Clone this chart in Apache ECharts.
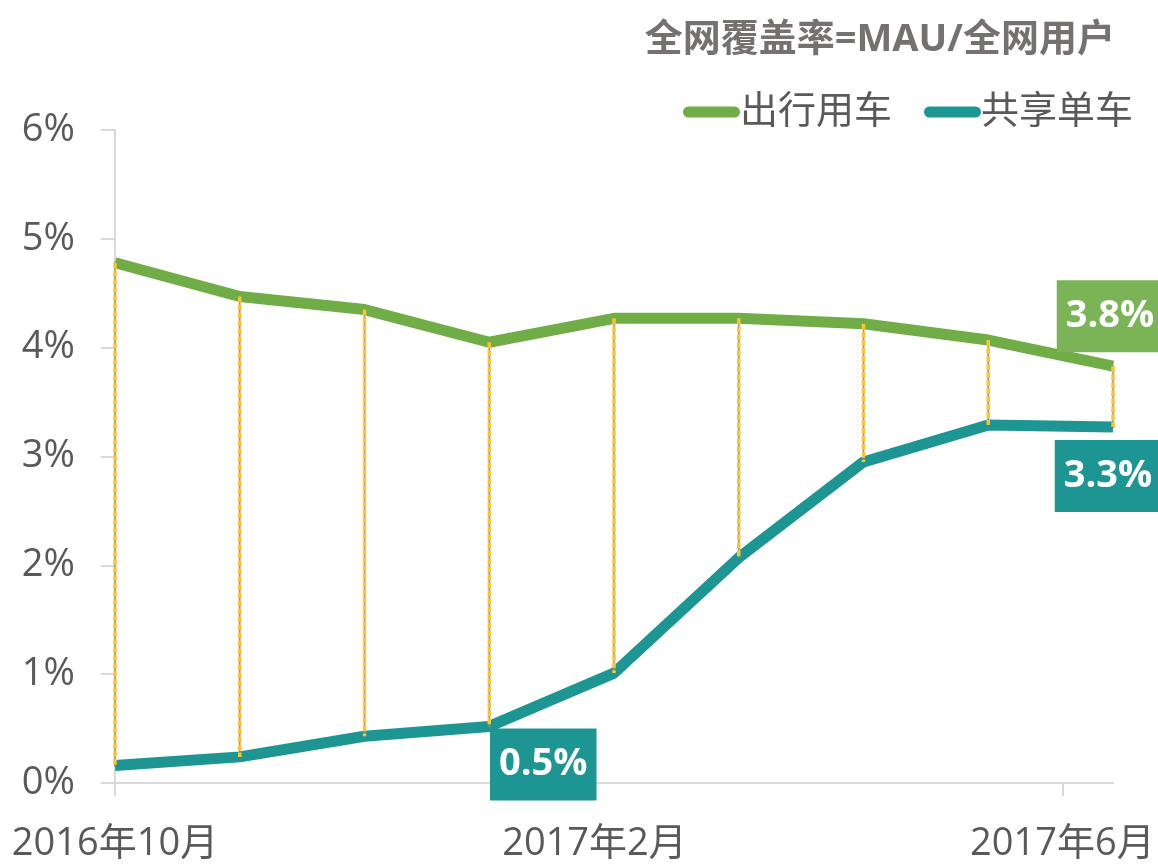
<!DOCTYPE html>
<html>
<head>
<meta charset="utf-8">
<title>全网覆盖率</title>
<script src="https://cdn.jsdelivr.net/npm/echarts@6/dist/echarts.min.js"></script>
<style>
	html, body { margin: 0; padding: 0; background: #fff; }
	#main { width: 1158px; height: 864px; }
</style>
</head>
<body>
<div id="main"></div>
<script>
'use strict';

// data (percent)
var dates = ['2016-10-01', '2016-11-02', '2016-12-04', '2017-01-05', '2017-02-06',
		'2017-03-10', '2017-04-11', '2017-05-13', '2017-06-14'];
var carValues = [4.78, 4.47, 4.35, 4.05, 4.27, 4.27, 4.22, 4.07, 3.83];
var bikeValues = [0.16, 0.24, 0.43, 0.52, 1.01, 2.07, 2.95, 3.29, 3.27];
var tickDates = ['2016-10-01', '2017-02-01', '2017-06-01'];
var tickLabels = ['2016年10月', '2017年2月', '2017年6月'];
var seriesNames = ['出行用车', '共享单车'];

var FONT = "'Open Sans', 'Noto Sans CJK SC', sans-serif",
		GREEN = '#70AD47',
		TEAL = '#1D9592',
		DAY = 86400000;

// days since the first date, so the x axis keeps the real calendar spacing
function dayOf(d) {
	return Math.round((Date.parse(d) - Date.parse(dates[0])) / DAY);
}

var xDays = dates.map(dayOf),
		tickDays = tickDates.map(dayOf);

function pairs(values) {
	return xDays.map(function (x, i) { return [x, values[i]]; });
}

function withLabel(data, idx, color, offset) {
	data[idx] = {
		value: data[idx],
		label: {
			show: true,
			position: 'inside',
			offset: offset,
			formatter: function (p) { return p.value[1].toFixed(1) + '%'; },
			color: '#fff',
			fontFamily: FONT,
			fontSize: 38,
			fontWeight: 'bold',
			lineHeight: 38,
			backgroundColor: color,
			padding: [17, 9, 17, 9]
		}
	};
	return data;
}

var carData = withLabel(pairs(carValues), 8, '#7BB456', [-3, -50]);
var bikeData = pairs(bikeValues);
withLabel(bikeData, 3, TEAL, [54, 38]);
withLabel(bikeData, 8, TEAL, [-5, 49]);

var chart = echarts.init(document.getElementById('main'));

chart.setOption({
	animation: false,
	title: {
		text: '全网覆盖率=MAU/全网用户',
		right: 38,
		top: 16,
		textStyle: {
			color: '#767171',
			fontFamily: FONT,
			fontSize: 38,
			fontWeight: 'bold'
		}
	},
	legend: {
		data: seriesNames,
		right: 20,
		top: 88,
		itemWidth: 57,
		itemHeight: 11,
		itemGap: 32,
		icon: 'path://M5.5,0 H51.5 A5.5,5.5 0 0 1 51.5,11 H5.5 A5.5,5.5 0 0 1 5.5,0 Z',
		textStyle: {
			color: '#595959',
			fontFamily: FONT,
			fontSize: 38,
			padding: [0, 0, 0, -5]
		}
	},
	grid: {
		left: 115,
		right: 45,
		top: 130,
		bottom: 81
	},
	xAxis: {
		type: 'value',
		min: 0,
		max: xDays[xDays.length - 1],
		splitLine: { show: false },
		axisLine: { lineStyle: { color: '#D9D9D9', width: 2 } },
		axisTick: {
			show: true,
			customValues: tickDays,
			length: 13,
			lineStyle: { color: '#D9D9D9', width: 2 }
		},
		axisLabel: {
			customValues: tickDays,
			margin: 42,
			color: '#595959',
			fontFamily: FONT,
			fontSize: 38,
			formatter: function (v) {
				return tickLabels[tickDays.indexOf(Math.round(v))] || '';
			}
		}
	},
	yAxis: {
		type: 'value',
		min: 0,
		max: 6,
		interval: 1,
		splitLine: { show: false },
		axisLine: { show: true, lineStyle: { color: '#D9D9D9', width: 2 } },
		axisTick: { show: true, length: 14, lineStyle: { color: '#D9D9D9', width: 2 } },
		axisLabel: {
			margin: 40,
			color: '#595959',
			fontFamily: FONT,
			fontSize: 38,
			formatter: '{value}%'
		}
	},
	series: [
		{
			name: seriesNames[0],
			type: 'line',
			data: carData,
			symbol: 'circle',
			symbolSize: 2,
			itemStyle: { color: GREEN },
			lineStyle: { color: GREEN, width: 11 },
			z: 2
		},
		{
			name: seriesNames[1],
			type: 'line',
			data: bikeData,
			symbol: 'circle',
			symbolSize: 2,
			itemStyle: { color: TEAL },
			lineStyle: { color: TEAL, width: 11 },
			z: 2
		},
		{
			// high-low lines between the two series
			type: 'custom',
			name: 'hilo',
			data: xDays.map(function (x, i) { return [x, carValues[i], bikeValues[i]]; }),
			encode: { x: 0, y: [1, 2] },
			z: 3,
			silent: true,
			renderItem: function (params, api) {
				var top = api.coord([api.value(0), api.value(1)]),
						bot = api.coord([api.value(0), api.value(2)]);
				return {
					type: 'group',
					children: [
						{
							type: 'line',
							shape: { x1: top[0], y1: top[1], x2: bot[0], y2: bot[1] },
							style: { stroke: '#8A8A8A', lineWidth: 1.5 }
						},
						{
							type: 'line',
							shape: { x1: top[0], y1: top[1], x2: bot[0], y2: bot[1] },
							style: { stroke: '#FFC233', lineWidth: 3.5, lineDash: [6, 2] }
						}
					]
				};
			}
		}
	]
});
</script>
</body>
</html>
